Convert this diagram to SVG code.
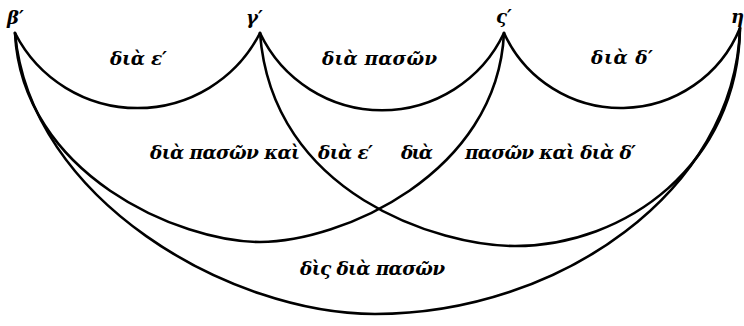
<svg xmlns="http://www.w3.org/2000/svg" width="744" height="326" viewBox="0 0 744 326">
<style>
.arc{fill:none;stroke:#000;stroke-width:2.6;stroke-linecap:round;stroke-linejoin:round}
.t{font-family:"DejaVu Serif",serif;font-weight:bold;font-style:italic;font-size:18.5px;fill:#000}
.n{font-family:"DejaVu Serif",serif;font-weight:bold;font-style:italic;font-size:18px;fill:#000}
</style>
<rect width="744" height="326" fill="#fff"/>
<g id="connectors">
<path class="arc" d="M15,33 A137.5,137.5 0 0 0 260,33"/>
<path class="arc" d="M260,33 A135,135 0 0 0 504,33"/>
<path class="arc" d="M504,33 A128.6,128.6 0 0 0 740,28"/>
<path class="arc" d="M15,33 C22,175 180,242 260,242 C340,242 497,175 504,33"/>
<path class="arc" d="M260,33 C272,195 440,246 515,246 C625,246 738,165 740,28"/>
<path class="arc" d="M15,33 C30,200 230,314 375,314 C560,314 735,190 740,28"/>
</g>
<g id="node-beta"><text class="n" x="7" y="24">β′</text></g>
<g id="node-gamma"><text class="n" x="246" y="24">γ′</text></g>
<g id="node-stigma"><text class="n" x="496" y="23">ς′</text></g>
<g id="node-eta"><text class="n" x="731" y="23" font-size="16">η</text></g>
<g id="labels">
<text class="t" x="110" y="65" textLength="57" lengthAdjust="spacing">διὰ ε′</text>
<text class="t" x="322" y="65" textLength="115" lengthAdjust="spacing">διὰ πασῶν</text>
<text class="t" x="591" y="64" textLength="62" lengthAdjust="spacing">διὰ δ′</text>
<text class="t" x="150" y="159" textLength="150" lengthAdjust="spacing">διὰ πασῶν καὶ</text>
<text class="t" x="318" y="159" textLength="55" lengthAdjust="spacing">διὰ ε′</text>
<text class="t" x="401" y="159" textLength="32" lengthAdjust="spacing">διὰ</text>
<text class="t" x="465" y="159" textLength="171" lengthAdjust="spacing">πασῶν καὶ διὰ δ′</text>
<text class="t" x="300" y="275" textLength="145" lengthAdjust="spacing">δὶς διὰ πασῶν</text>
</g>
</svg>
